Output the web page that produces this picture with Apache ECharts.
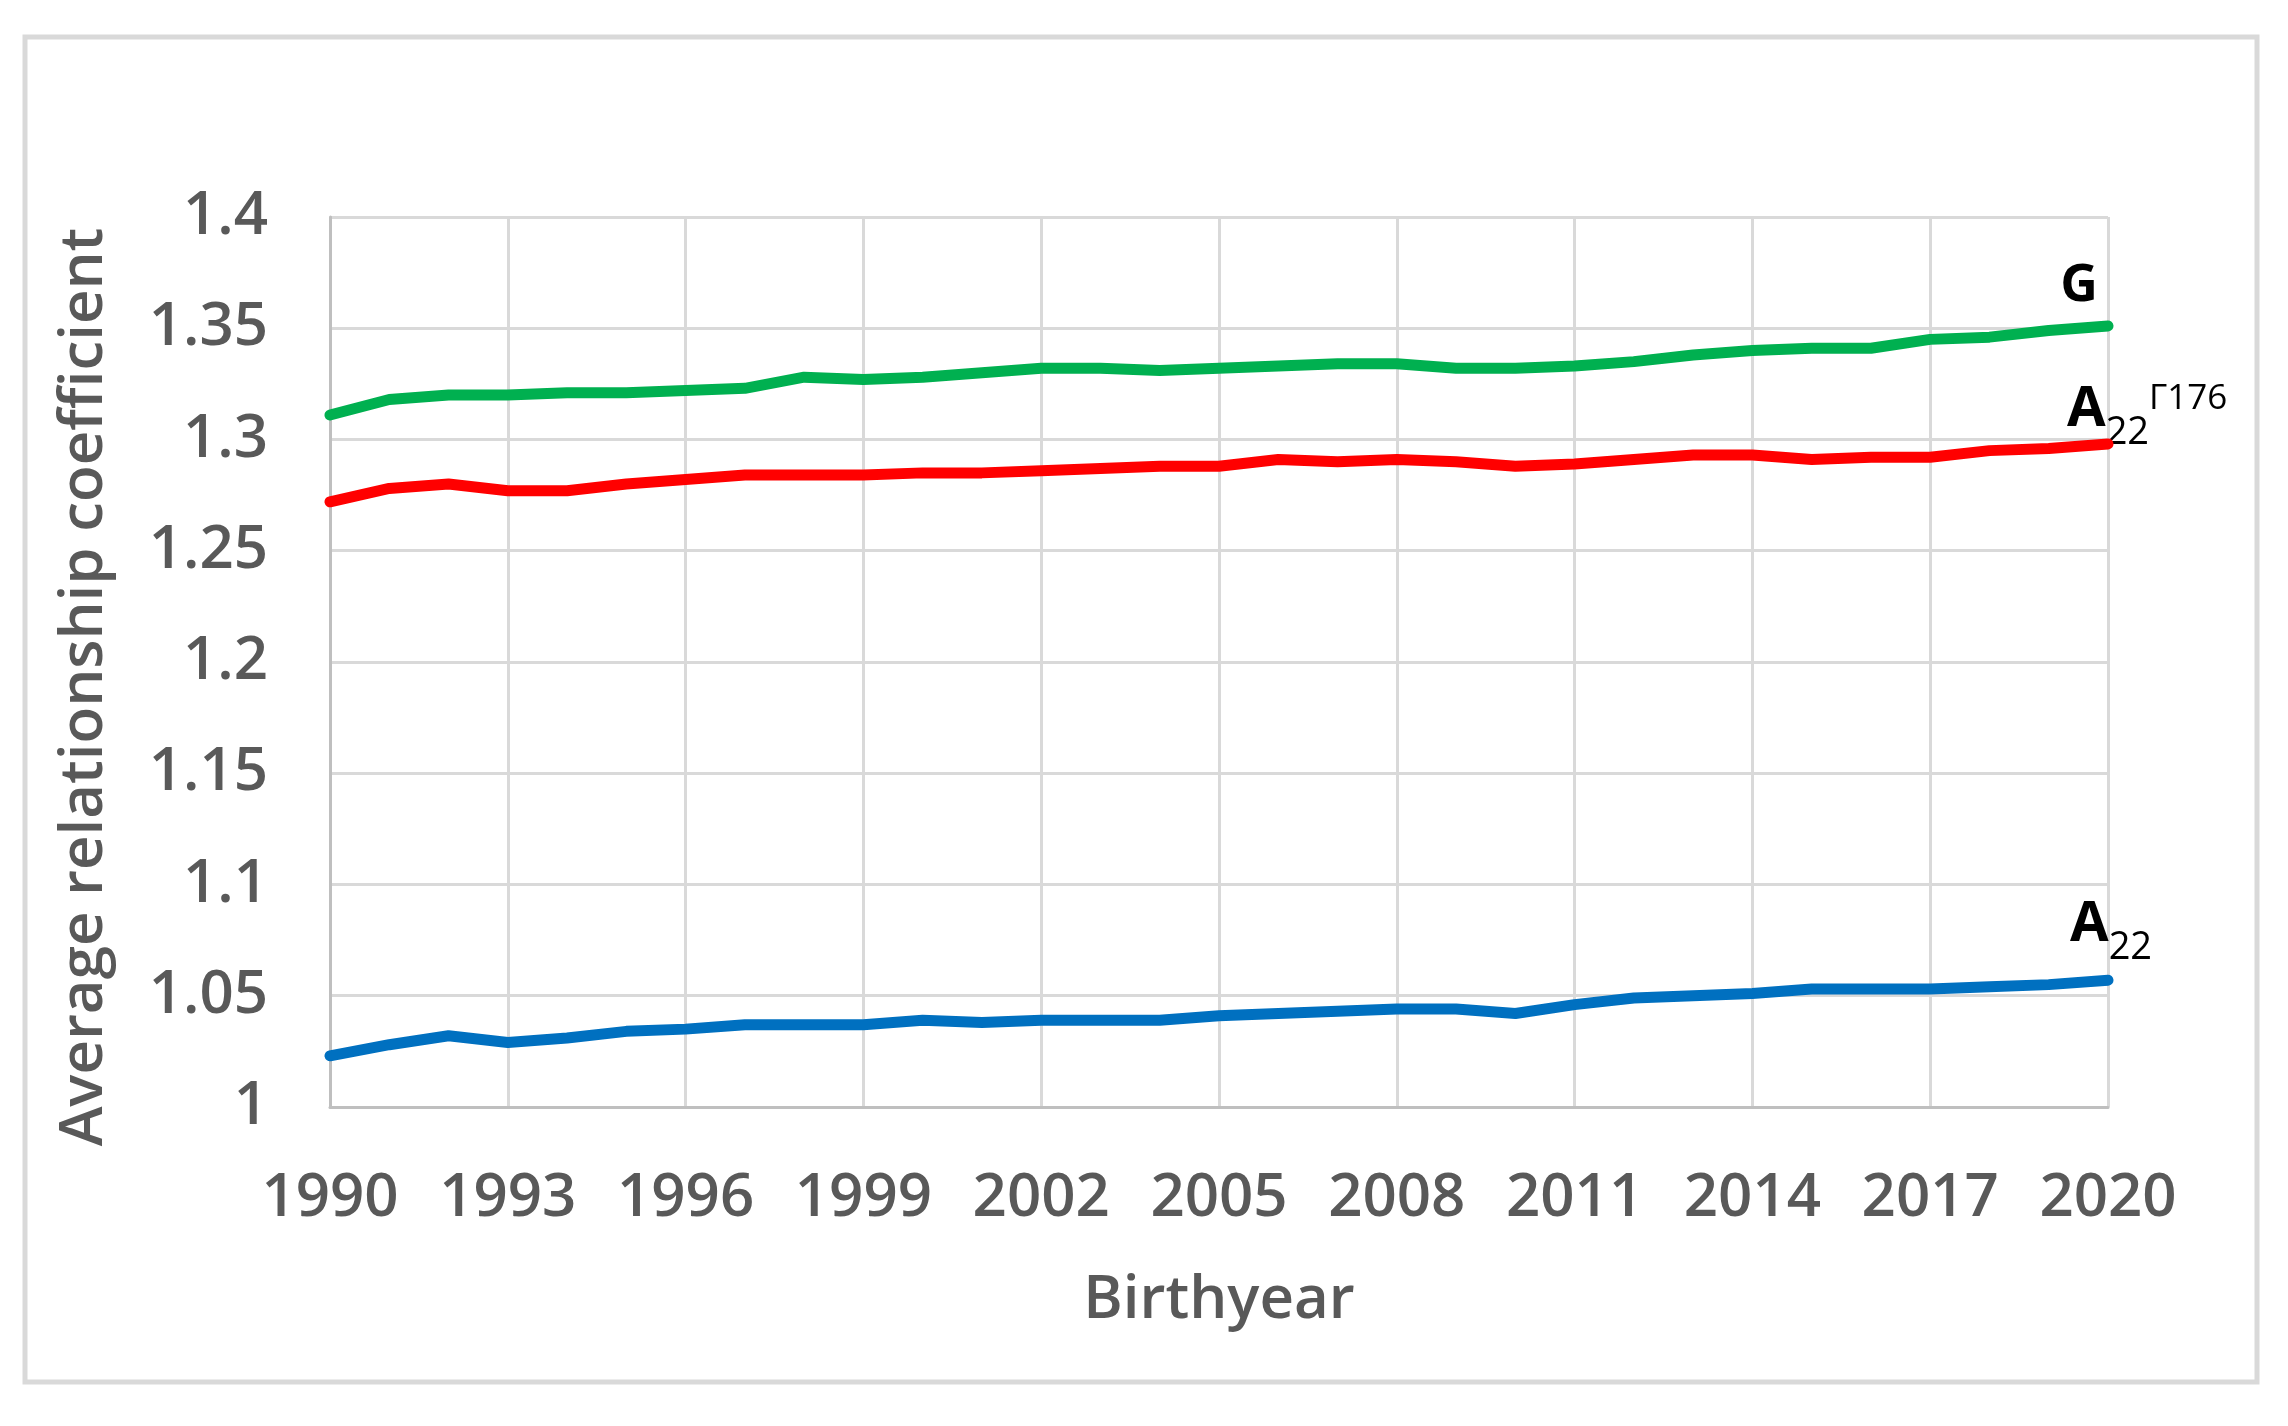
<!DOCTYPE html>
<html><head><meta charset="utf-8">
<script src="https://cdn.jsdelivr.net/npm/echarts@6/dist/echarts.min.js"></script>
<style>html,body{margin:0;padding:0;background:#fff}#c{width:2288px;height:1426px}</style>
</head><body><div id="c"></div>
<script>
const years = ['1990','1991','1992','1993','1994','1995','1996','1997','1998','1999','2000','2001','2002','2003','2004','2005','2006','2007','2008','2009','2010','2011','2012','2013','2014','2015','2016','2017','2018','2019','2020'];
const gValues = [1.311,1.318,1.320,1.320,1.321,1.321,1.322,1.323,1.328,1.327,1.328,1.330,1.332,1.332,1.331,1.332,1.333,1.334,1.334,1.332,1.332,1.333,1.335,1.338,1.340,1.341,1.341,1.345,1.346,1.349,1.351];
const a22GammaValues = [1.272,1.278,1.280,1.277,1.277,1.280,1.282,1.284,1.284,1.284,1.285,1.285,1.286,1.287,1.288,1.288,1.291,1.290,1.291,1.290,1.288,1.289,1.291,1.293,1.293,1.291,1.292,1.292,1.295,1.296,1.298];
const a22Values = [1.023,1.028,1.032,1.029,1.031,1.034,1.035,1.037,1.037,1.037,1.039,1.038,1.039,1.039,1.039,1.041,1.042,1.043,1.044,1.044,1.042,1.046,1.049,1.050,1.051,1.053,1.053,1.053,1.054,1.055,1.057];
const xAxisTitle = 'Birthyear';
const yAxisTitle = 'Average relationship coefficient';

const FONT = 'Open Sans';
const chart = echarts.init(document.getElementById('c'), null, {renderer: 'canvas'});
const lineSeries = (name, data, color) => ({
  name, type: 'line', data, symbol: 'none', smooth: false, animation: false,
  lineStyle: {color, width: 11, cap: 'round', join: 'round'}
});
chart.setOption({
  animation: false,
  backgroundColor: '#ffffff',
  grid: {left: 330, top: 217, right: 180, bottom: 319},
  xAxis: {
    type: 'category', data: years, boundaryGap: false,
    axisLine: {show: true, lineStyle: {color: '#bfbfbf', width: 3}},
    axisTick: {show: false},
    axisLabel: {interval: 2, margin: 62, fontSize: 60, fontWeight: 600, fontFamily: FONT, color: '#595959'},
    splitLine: {show: true, interval: 2, lineStyle: {color: '#d9d9d9', width: 3}},
    name: xAxisTitle, nameLocation: 'middle', nameGap: 164,
    nameTextStyle: {fontSize: 60, fontWeight: 600, fontFamily: FONT, color: '#595959'}
  },
  yAxis: {
    type: 'value', min: 1, max: 1.4, interval: 0.05,
    axisLine: {show: true, lineStyle: {color: '#bfbfbf', width: 3}},
    axisTick: {show: false},
    axisLabel: {margin: 62, fontSize: 60, fontWeight: 600, fontFamily: FONT, color: '#595959'},
    splitLine: {show: true, lineStyle: {color: '#d9d9d9', width: 3}},
    name: yAxisTitle, nameLocation: 'middle', nameGap: 215,
    nameTextStyle: {fontSize: 60, fontWeight: 600, fontFamily: FONT, color: '#595959', padding: [0, 50, 0, 0]}
  },
  series: [
    lineSeries('G', gValues, '#00b050'),
    lineSeries('A22Γ176', a22GammaValues, '#ff0000'),
    lineSeries('A22', a22Values, '#0070c0')
  ]
});

const last = years.length - 1;
const pG = chart.convertToPixel({gridIndex: 0}, [years[last], gValues[last]]);
const pR = chart.convertToPixel({gridIndex: 0}, [years[last], a22GammaValues[last]]);
const pB = chart.convertToPixel({gridIndex: 0}, [years[last], a22Values[last]]);
const rich = {
  a: {fontSize: 56, fontWeight: 'bold', fontFamily: FONT, fill: '#000', lineHeight: 56},
  sub: {fontSize: 38, fontWeight: 'normal', fontFamily: FONT, fill: '#000', lineHeight: 38, padding: [46, 0, 0, 0]},
  sup: {fontSize: 35, fontWeight: 'normal', fontFamily: FONT, fill: '#000', lineHeight: 35, padding: [0, 0, 22, 0]}
};
chart.setOption({
  graphic: [
    {type: 'rect', silent: true, shape: {x: 25, y: 37, width: 2232, height: 1345},
     style: {fill: 'none', stroke: '#d9d9d9', lineWidth: 5}},
    {type: 'text', silent: true, style: {text: 'G', x: pG[0] - 10, y: pG[1] - 14, align: 'right', verticalAlign: 'bottom',
      fontSize: 52, fontWeight: 'bold', fontFamily: FONT, fill: '#000'}},
    {type: 'text', silent: true, style: {text: '{a|A}{sub|22}{sup|Γ176}', x: pR[0] - 41, y: pR[1] - 34,
      align: 'left', verticalAlign: 'middle', rich}},
    {type: 'text', silent: true, style: {text: '{a|A}{sub|22}', x: pB[0] - 38, y: pB[1] - 55,
      align: 'left', verticalAlign: 'middle', rich}}
  ]
});
</script>
</body></html>
